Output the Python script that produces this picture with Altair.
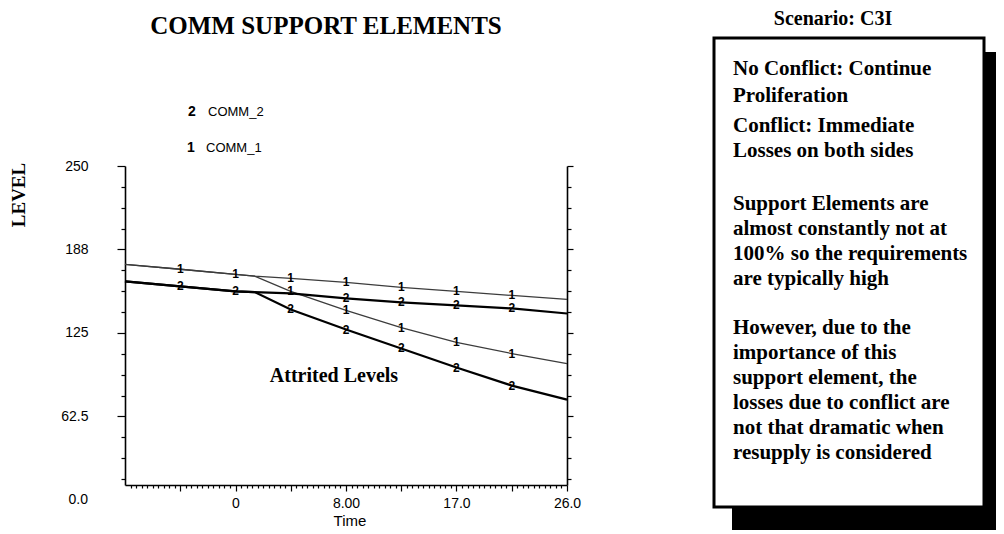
import altair as alt
import pandas as pd

# ---------------- data ----------------
times = [-8.67, -4.33, 0.0, 1.5, 4.33, 8.67, 13.0, 17.33, 21.67, 26.0]
comm1_no_conflict = [176.4, 172.7, 168.9, 167.6, 165.9, 162.9, 159.2, 156.1, 153.1, 150.1]
comm2_no_conflict = [163.7, 159.9, 156.2, 155.6, 154.6, 150.9, 147.9, 145.6, 143.4, 139.6]
comm1_attrited = [176.4, 172.7, 168.9, 167.6, 156.2, 141.9, 129.1, 117.9, 109.6, 102.1]
comm2_attrited = [163.7, 159.9, 156.2, 155.6, 142.6, 127.6, 113.4, 99.1, 85.6, 75.1]
marker_times = [-4.33, 0.0, 4.33, 8.67, 13.0, 17.33, 21.67]
# the COMM_2 no-conflict marker at 4.33 is hidden under the crossing lines
hidden_markers = [("2", "No conflict", 4.33)]

series_ids = ["1", "2"]
series_names = ["COMM_1", "COMM_2"]
x_tick_text = ["0", "8.00", "17.0", "26.0"]
y_tick_text = ["250", "188", "125", "62.5", "0.0"]

chart_title = "COMM SUPPORT ELEMENTS"
scenario = "Scenario: C3I"
annotation = "Attrited Levels"
y_title = "LEVEL"
x_title = "Time"
box_lines = [
    "No Conflict: Continue", "Proliferation",
    "Conflict:  Immediate", "Losses on both sides",
    "Support Elements are", "almost constantly not at",
    "100% so the requirements", "are typically high",
    "However, due to the", "importance of this",
    "support element, the", "losses due to conflict are",
    "not that dramatic when", "resupply is considered",
]

# ---------------- table ----------------
rows = []
for sid, branch, vals in [("1", "No conflict", comm1_no_conflict),
                          ("1", "Attrited", comm1_attrited),
                          ("2", "No conflict", comm2_no_conflict),
                          ("2", "Attrited", comm2_attrited)]:
    for t, v in zip(times, vals):
        is_marker = ((t in marker_times)
                     and not (branch == "Attrited" and t <= 0)
                     and (sid, branch, t) not in hidden_markers)
        rows.append(dict(series=sid, branch=branch, key=sid + branch,
                         time=t, level=v, marker=is_marker))
df = pd.DataFrame(rows)

# ---------------- layout helpers (page pixels) ----------------
PL, PT = 125, 166          # plot origin on the page
W, H = 442, 319
SERIF = "Liberation Serif"
SANS = "Liberation Sans"

x_scale = alt.Scale(domain=[-26 / 3, 26], nice=False, zero=False)
y_scale = alt.Scale(domain=[11.2, 250], nice=False, zero=False)

x_ticks = [round(-26 / 3 + i * 13 / 30, 4) for i in range(81)]
y_ticks = [250 - 15.625 * i for i in range(16)]

x_label_expr = (
    f"abs(datum.value) < 0.05 ? '{x_tick_text[0]}' : "
    f"abs(datum.value - 8.6667) < 0.05 ? '{x_tick_text[1]}' : "
    f"abs(datum.value - 17.3333) < 0.05 ? '{x_tick_text[2]}' : "
    f"abs(datum.value - 26) < 0.05 ? '{x_tick_text[3]}' : ''"
)
y_label_expr = (
    f"datum.value == 250 ? '{y_tick_text[0]}' : "
    f"datum.value == 187.5 ? '{y_tick_text[1]}' : "
    f"datum.value == 125 ? '{y_tick_text[2]}' : "
    f"datum.value == 62.5 ? '{y_tick_text[3]}' : ''"
)

common_axis = dict(grid=False, title=None, domainColor="black", domainWidth=1.6,
                   tickColor="black", tickWidth=1.2, labelColor="black",
                   labelFont=SANS, labelFontSize=14, labelFlush=False,
                   labelOverlap=False)

x_axis = alt.Axis(values=x_ticks, labelExpr=x_label_expr,
                  tickSize={"condition": {"test": "abs(datum.value*3/13 - round(datum.value*3/13)) < 0.01",
                                          "value": 6}, "value": 3},
                  labelPadding=5, **common_axis)
y_left_axis = alt.Axis(values=y_ticks, labelExpr=y_label_expr, orient="left",
                       tickSize={"condition": {"test": "datum.value % 62.5 == 0", "value": 8}, "value": 4},
                       labelPadding=29, **common_axis)
y_right_axis = alt.Axis(values=y_ticks, labels=False, orient="right",
                        tickSize={"condition": {"test": "datum.value % 62.5 == 0", "value": 6}, "value": 4},
                        **common_axis)

base = alt.Chart(df)
X = alt.X("time:Q", scale=x_scale, axis=x_axis)

lines = base.mark_line().encode(
    x=X,
    y=alt.Y("level:Q", scale=y_scale, axis=y_left_axis),
    detail="key:N",
    color=alt.Color("series:N", scale=alt.Scale(domain=series_ids, range=["#3c3c3c", "#000000"]), legend=None),
    strokeWidth=alt.StrokeWidth("series:N", scale=alt.Scale(domain=series_ids, range=[1.3, 2.2]), legend=None),
)

right_axis_layer = base.mark_line(opacity=0).encode(
    x=X,
    y=alt.Y("level:Q", scale=y_scale, axis=y_right_axis),
    detail="key:N",
)

markers = base.transform_filter("datum.marker").mark_text(
    font=SANS, fontWeight="bold", fontSize=12, color="black", baseline="middle", align="center"
).encode(
    x=X,
    y=alt.Y("level:Q", scale=y_scale, axis=None),
    text="series:N",
)


def label(text, px, py, size, font=SERIF, weight="bold", align="center", angle=0, baseline="middle"):
    kw = dict(font=font, fontSize=size, fontWeight=weight, align=align,
              baseline=baseline, color="black")
    if angle:
        kw["angle"] = angle
    return alt.Chart(pd.DataFrame({"t": [text]})).mark_text(**kw).encode(
        x=alt.value(px - PL), y=alt.value(py - PT), text="t:N")


# right-hand box: shadow and framed white panel
shadow = alt.Chart(pd.DataFrame({"a": [0]})).mark_rect(color="black").encode(
    x=alt.value(732 - PL), x2=alt.value(996 - PL), y=alt.value(52 - PT), y2=alt.value(530 - PT))
panel = alt.Chart(pd.DataFrame({"a": [0]})).mark_rect(fill="white", stroke="black", strokeWidth=3).encode(
    x=alt.value(714 - PL), x2=alt.value(984 - PL), y=alt.value(38 - PT), y2=alt.value(507 - PT))

box_y = [69, 96, 126, 151, 204, 229, 254, 279, 328, 353, 378, 403, 428, 453]
box_layers = [label(t, 733, y, 21, align="left") for t, y in zip(box_lines, box_y)]

annots = [
    label(chart_title, 326, 26, 25),
    label(scenario, 833, 19, 20),
    label(annotation, 334, 376, 20),
    label(y_title, 19, 195, 19, angle=270),
    label(x_title, 350, 521, 15, font=SANS, weight="normal"),
    label(y_tick_text[4], 88, 500, 14, font=SANS, weight="normal", align="right"),
    label(series_ids[1], 192, 112, 14, font=SANS),
    label(series_names[1], 208, 112, 13, font=SANS, weight="normal", align="left"),
    label(series_ids[0], 191, 148, 14, font=SANS),
    label(series_names[0], 206, 148, 13, font=SANS, weight="normal", align="left"),
]

chart = alt.layer(
    lines, right_axis_layer, markers, shadow, panel, *box_layers, *annots
).resolve_scale(y="independent").properties(
    width=W, height=H,
    padding={"left": PL - 8, "top": PT - 8, "right": 988 - (PL - 8) - W, "bottom": 524 - (PT - 8) - H},
    autosize=alt.AutoSizeParams(type="none"),
    background="white",
).configure_view(stroke=None)

chart.save("out.html", embed_options={"renderer": "svg", "actions": False})
